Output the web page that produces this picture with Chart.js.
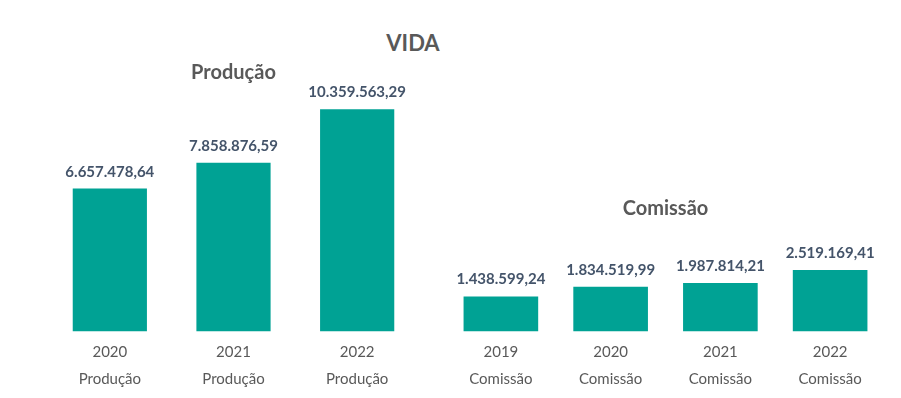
<!DOCTYPE html>
<html>
<head>
<meta charset="utf-8">
<script src="https://cdn.jsdelivr.net/npm/chart.js@4.4.0/dist/chart.umd.min.js"></script>
<style>
  html, body { margin: 0; padding: 0; background: #fff; }
  #wrap { position: relative; width: 901px; height: 398px; overflow: hidden; font-family: Lato, "Open Sans", sans-serif; }
  #vida { position: absolute; left: 313px; top: 29px; width: 200px; text-align: center; font-size: 22px; font-weight: bold; color: #595959; }
  #c1 { position: absolute; left: 48px; top: 0; }
  #c2 { position: absolute; left: 446px; top: 0; }
</style>
</head>
<body>
<div id="wrap">
  <div id="vida">VIDA</div>
  <canvas id="c1" width="371" height="398"></canvas>
  <canvas id="c2" width="439" height="398"></canvas>
</div>
<script>
// Produção
const prodYears = ["2020", "2021", "2022"];
const prodValues = [6657478.64, 7858876.59, 10359563.29];
// Comissão
const comYears = ["2019", "2020", "2021", "2022"];
const comValues = [1438599.24, 1834519.99, 1987814.21, 2519169.41];

const teal = "#00A294";
const labelColor = "#44546A";
const tickColor = "#595959";
const fontFamily = "Lato, 'Open Sans', sans-serif";

function fmt(v) {
  return v.toLocaleString("pt-BR", { minimumFractionDigits: 2, maximumFractionDigits: 2 });
}

// draw value above each bar
const valueLabels = {
  id: "valueLabels",
  afterDatasetsDraw(chart) {
    const ctx = chart.ctx;
    ctx.save();
    ctx.font = "bold 15px " + fontFamily;
    ctx.fillStyle = labelColor;
    ctx.textAlign = "center";
    ctx.textBaseline = "alphabetic";
    chart.getDatasetMeta(0).data.forEach((bar, i) => {
      ctx.fillText(fmt(chart.data.datasets[0].data[i]), bar.x, bar.y - 12);
    });
    ctx.restore();
  }
};

function makeChart(id, years, name, values, yMax, titlePad, barPct) {
  return new Chart(document.getElementById(id), {
    type: "bar",
    data: {
      labels: years.map(y => [y, name]),
      datasets: [{
        data: values,
        backgroundColor: teal,
        borderWidth: 0,
        categoryPercentage: 1,
        barPercentage: barPct
      }]
    },
    options: {
      responsive: false,
      animation: false,
      layout: { padding: { top: 0, bottom: 6, left: 0, right: 0 } },
      plugins: {
        legend: { display: false },
        tooltip: { enabled: false },
        title: {
          display: true,
          text: name,
          color: tickColor,
          font: { family: fontFamily, size: 20, weight: "bold" },
          padding: { top: titlePad, bottom: 10 }
        }
      },
      scales: {
        x: {
          grid: { display: false },
          border: { display: false },
          ticks: {
            color: tickColor,
            padding: 0,
            font: { family: fontFamily, size: 15, lineHeight: 1.75 }
          }
        },
        y: {
          display: false,
          min: 0,
          max: yMax
        }
      }
    },
    plugins: [valueLabels]
  });
}

makeChart("c1", prodYears, "Produção", prodValues, 11020000, 61, 0.6);
makeChart("c2", comYears, "Comissão", comValues, 4120000, 197, 0.68);
</script>
</body>
</html>
